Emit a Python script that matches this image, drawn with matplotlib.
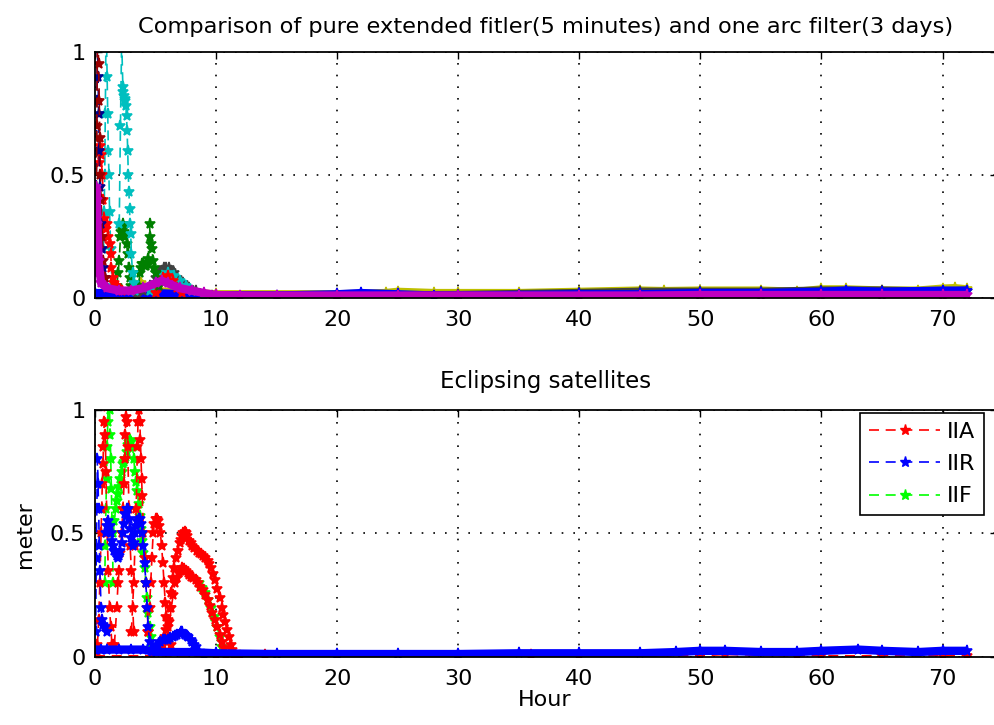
import matplotlib
matplotlib.use("Agg")
import matplotlib.pyplot as plt
from matplotlib.lines import Line2D

plt.rcParams['font.family'] = ['DejaVu Sans']
plt.rcParams['font.size'] = 16

# MATLAB default colour order
c_b = (0, 0, 1)
c_g = (0, 0.5, 0)
c_r = (1, 0, 0)
c_c = (0, 0.75, 0.75)
c_m = (0.75, 0, 0.75)
c_y = (0.75, 0.75, 0)
c_k = (0.25, 0.25, 0.25)

# ---- top panel: all satellites (hour, metre) ----
navy_h = [0.05, 0.1, 0.15, 0.2, 0.25, 0.3, 0.35, 0.4, 0.5, 0.6, 0.7, 0.8, 1.0]
navy_v = [0.1, 0.45, 0.8, 1.05, 0.9, 0.75, 0.6, 0.45, 0.3, 0.2, 0.12, 0.08, 0.04]
maroon_h = [0.1, 0.15, 0.2, 0.25, 0.3, 0.35, 0.4, 0.45, 0.5, 0.6, 0.7, 0.8]
maroon_v = [0.3, 0.7, 1.05, 1.05, 0.95, 0.8, 0.65, 0.5, 0.4, 0.25, 0.15, 0.08]
red_h = [0.3, 0.4, 0.45, 0.5, 0.6, 0.7, 0.75, 0.8, 0.9, 1.0, 1.1, 1.2, 1.3, 1.35, 1.5, 1.6, 1.7, 1.9, 2.2]
red_v = [0.55, 0.6, 0.62, 0.58, 0.5, 0.4, 0.32, 0.3, 0.28, 0.3, 0.25, 0.22, 0.18, 0.12, 0.08, 0.06, 0.05, 0.04, 0.03]
cyan1_h = [0.7, 0.75, 0.8, 0.85, 0.9, 0.95, 1.0, 1.05, 1.1, 1.15, 1.2, 1.3, 1.4]
cyan1_v = [0.2, 0.35, 0.5, 0.75, 1.05, 1.05, 0.9, 0.75, 0.6, 0.5, 0.35, 0.2, 0.05]
cyan2_h = [2.0, 2.1, 2.2, 2.3, 2.35, 2.4, 2.45, 2.5, 2.55, 2.6, 2.65, 2.7, 2.75, 2.8, 2.85, 2.9, 2.95, 3.0, 3.1, 3.2, 3.3]
cyan2_v = [0.3, 0.7, 1.05, 0.86, 0.84, 0.82, 0.81, 0.8, 0.78, 0.74, 0.68, 0.6, 0.5, 0.43, 0.36, 0.3, 0.26, 0.18, 0.1, 0.06, 0.03]
green1_h = [1.8, 1.9, 2.0, 2.1, 2.15, 2.2, 2.25, 2.3, 2.35, 2.4, 2.5, 2.6, 2.7, 2.8, 2.9, 3.0]
green1_v = [0.05, 0.1, 0.15, 0.25, 0.27, 0.28, 0.29, 0.3, 0.28, 0.27, 0.25, 0.22, 0.18, 0.12, 0.08, 0.05]
green2_h = [3.6, 3.7, 3.8, 3.9, 4.0, 4.1, 4.2, 4.3, 4.4, 4.5, 4.55, 4.6, 4.7, 4.8, 4.9, 5.0, 5.3]
green2_v = [0.05, 0.1, 0.12, 0.14, 0.14, 0.13, 0.13, 0.14, 0.16, 0.3, 0.25, 0.22, 0.2, 0.15, 0.12, 0.1, 0.05]
gray_h = [3.5, 4.0, 4.5, 5.0, 5.3, 5.5, 5.7, 5.9, 6.1, 6.3, 6.5, 6.8, 7.3, 7.8, 8.3, 9.0, 9.7]
gray_v = [0.01, 0.03, 0.05, 0.08, 0.1, 0.11, 0.12, 0.12, 0.12, 0.11, 0.1, 0.08, 0.06, 0.04, 0.03, 0.015, 0.01]
teal_h = [4.5, 5.0, 5.5, 6.0, 6.5, 7.0, 7.5, 8.0, 9.0]
teal_v = [0.03, 0.06, 0.09, 0.1, 0.09, 0.07, 0.05, 0.03, 0.01]
redhump_h = [5.0, 5.3, 5.6, 6.0, 6.4, 6.8, 7.2]
redhump_v = [0.02, 0.05, 0.08, 0.09, 0.07, 0.04, 0.02]
yellow_h = [3.0, 3.4, 3.8, 4.2, 10, 20, 24, 25, 28, 30, 35, 40, 45, 47, 50, 55, 58, 60, 62, 65, 68, 70, 71, 72]
yellow_v = [0.02, 0.05, 0.06, 0.03, 0.015, 0.015, 0.02, 0.025, 0.02, 0.02, 0.02, 0.025, 0.03, 0.028, 0.03, 0.03, 0.025, 0.035, 0.035, 0.03, 0.03, 0.038, 0.04, 0.035]
blue_h = [0, 5, 10, 15, 20, 22, 25, 28, 30, 35, 40, 45, 50, 55, 60, 62, 65, 70, 72]
blue_v = [0.02, 0.02, 0.01, 0.01, 0.015, 0.02, 0.015, 0.01, 0.01, 0.012, 0.015, 0.015, 0.02, 0.02, 0.025, 0.03, 0.025, 0.03, 0.03]
dark_h = [0, 10, 20, 30, 40, 45, 50, 55, 60, 65, 70, 72]
dark_v = [0.015, 0.01, 0.01, 0.012, 0.02, 0.025, 0.025, 0.025, 0.03, 0.03, 0.025, 0.03]
mag_h = [0, 0.1, 0.15, 0.2, 0.3, 0.5, 1, 2, 3, 4, 5, 5.5, 6, 7, 8, 9, 10, 12, 15, 20, 25, 30, 35, 40, 45, 50, 55, 60, 65, 70, 72]
mag_v = [0.1, 0.45, 0.4, 0.3, 0.15, 0.06, 0.04, 0.03, 0.03, 0.04, 0.06, 0.07, 0.06, 0.04, 0.03, 0.02, 0.012, 0.01, 0.01, 0.01, 0.01, 0.01, 0.01, 0.01, 0.01, 0.012, 0.012, 0.012, 0.012, 0.012, 0.012]

top_series = [
    (yellow_h, yellow_v, c_y, True),
    (dark_h, dark_v, c_k, True),
    (blue_h, blue_v, c_b, True),
    (gray_h, gray_v, c_k, False),
    (teal_h, teal_v, c_c, False),
    (redhump_h, redhump_v, c_r, False),
    (green1_h, green1_v, c_g, False),
    (green2_h, green2_v, c_g, False),
    (cyan2_h, cyan2_v, c_c, False),
    (cyan1_h, cyan1_v, c_c, False),
    (red_h, red_v, c_r, False),
    (navy_h, navy_v, (0, 0, 0.55), False),
    (maroon_h, maroon_v, (0.6, 0, 0), False),
    (mag_h, mag_v, c_m, True),
]

# ---- bottom panel: eclipsing satellites by block ----
iia = [
    ([0.2, 0.3, 0.4, 0.5, 0.55, 0.6, 0.65, 0.7, 0.75, 0.8, 0.85, 0.9, 1.0, 1.1, 1.2, 1.3, 1.4],
     [0.05, 0.15, 0.3, 0.5, 0.6, 0.7, 0.78, 0.85, 0.95, 1.05, 0.9, 0.75, 0.5, 0.35, 0.2, 0.12, 0.05]),
    ([1.6, 1.8, 1.9, 2.0, 2.1, 2.2, 2.3, 2.4, 2.45, 2.5, 2.55, 2.6, 2.65, 2.7, 2.8, 2.9, 3.0, 3.2],
     [0.05, 0.2, 0.3, 0.35, 0.42, 0.5, 0.6, 0.7, 0.8, 0.9, 0.97, 1.05, 0.95, 0.85, 0.6, 0.45, 0.35, 0.1]),
    ([3.0, 3.1, 3.2, 3.3, 3.4, 3.5, 3.55, 3.6, 3.65, 3.7, 3.75, 3.8, 3.85, 3.9, 4.0, 4.1, 4.2, 4.3, 4.4],
     [0.1, 0.2, 0.3, 0.45, 0.6, 0.85, 0.95, 1.05, 1.0, 0.95, 0.88, 0.8, 0.72, 0.65, 0.5, 0.4, 0.3, 0.2, 0.1]),
    ([4.4, 4.5, 4.6, 4.7, 4.8, 4.9, 5.0, 5.1, 5.2, 5.3, 5.4, 5.5, 5.6, 5.7, 5.8, 5.9, 6.0, 6.3],
     [0.1, 0.2, 0.3, 0.4, 0.5, 0.54, 0.56, 0.56, 0.55, 0.53, 0.5, 0.45, 0.38, 0.3, 0.22, 0.16, 0.12, 0.05]),
    ([5.6, 5.75, 5.9, 6.05, 6.2, 6.3, 6.4, 6.55, 6.7, 6.85, 7.0, 7.1, 7.2, 7.3, 7.4, 7.5, 7.6, 7.75, 7.9, 8.05, 8.2, 8.4, 8.6, 8.75, 8.9, 9.1, 9.3, 9.45, 9.6, 9.75, 9.9, 10.1, 10.3, 10.45, 10.6, 10.75, 10.9, 11.05, 11.2, 11.35, 11.5, 12.0],
     [0.05, 0.08, 0.11, 0.15, 0.2, 0.26, 0.32, 0.36, 0.4, 0.43, 0.46, 0.475, 0.49, 0.5, 0.505, 0.5, 0.49, 0.47, 0.46, 0.45, 0.44, 0.43, 0.42, 0.415, 0.41, 0.4, 0.39, 0.375, 0.36, 0.335, 0.31, 0.275, 0.24, 0.2, 0.17, 0.14, 0.11, 0.08, 0.05, 0.03, 0.01, 0.005]),
    ([6.0, 6.15, 6.3, 6.45, 6.6, 6.75, 6.9, 7.05, 7.2, 7.35, 7.5, 7.65, 7.8, 7.95, 8.1, 8.3, 8.5, 8.7, 8.9, 9.1, 9.3, 9.5, 9.7, 9.9, 10.1, 10.3, 10.5, 10.65, 10.8],
     [0.08, 0.14, 0.2, 0.25, 0.3, 0.32, 0.34, 0.35, 0.36, 0.355, 0.35, 0.34, 0.33, 0.325, 0.32, 0.31, 0.3, 0.285, 0.27, 0.25, 0.23, 0.205, 0.18, 0.15, 0.12, 0.09, 0.06, 0.035, 0.01]),
    ([0, 10, 14, 20, 30, 36, 40, 50, 52, 58, 60, 65, 70, 72],
     [0.005, 0.005, 0.01, 0.005, 0.008, 0.008, 0.005, 0.005, 0.01, 0.005, 0.005, 0.005, 0.005, 0.005]),
]
iir = [
    ([0.05, 0.1, 0.15, 0.2, 0.25, 0.3, 0.35, 0.4, 0.5, 0.6, 0.7, 0.8, 1.0],
     [0.1, 0.4, 0.6, 0.8, 0.7, 0.6, 0.45, 0.35, 0.2, 0.15, 0.13, 0.12, 0.1]),
    ([0.9, 1.0, 1.1, 1.2, 1.3, 1.4, 1.5, 1.6, 1.7, 1.8, 1.9, 2.0, 2.1, 2.2, 2.3, 2.4, 2.5, 2.6, 2.7, 2.8, 2.9, 3.0, 3.1, 3.2, 3.3, 3.4, 3.5, 3.6, 3.7, 3.8, 3.9, 4.0, 4.1, 4.2, 4.3, 4.4, 4.5, 4.6, 4.7],
     [0.5, 0.53, 0.55, 0.53, 0.5, 0.47, 0.45, 0.43, 0.42, 0.41, 0.4, 0.41, 0.43, 0.46, 0.5, 0.54, 0.58, 0.6, 0.6, 0.56, 0.52, 0.48, 0.45, 0.46, 0.5, 0.53, 0.55, 0.56, 0.56, 0.54, 0.5, 0.45, 0.38, 0.3, 0.2, 0.12, 0.06, 0.03, 0.02]),
    ([4.8, 5.0, 5.2, 5.4, 5.6, 5.8, 6.0, 6.2, 6.4, 6.6, 6.8, 7.0, 7.1, 7.2, 7.4, 7.6, 7.7, 7.9, 8.0, 8.2, 8.3, 8.6, 9.0],
     [0.03, 0.04, 0.05, 0.06, 0.07, 0.07, 0.07, 0.075, 0.08, 0.085, 0.09, 0.095, 0.1, 0.1, 0.09, 0.085, 0.08, 0.07, 0.06, 0.05, 0.04, 0.02, 0.01]),
]
iir_base_h = [0, 0.5, 1, 2, 3, 4, 5, 8, 10, 15, 20, 25, 30, 35, 40, 45, 48, 50, 52, 55, 58, 60, 63, 65, 68, 70, 72]
iir_base_v = [0.03, 0.03, 0.03, 0.03, 0.03, 0.03, 0.02, 0.02, 0.015, 0.012, 0.012, 0.012, 0.012, 0.015, 0.015, 0.015, 0.02, 0.025, 0.025, 0.02, 0.02, 0.025, 0.03, 0.025, 0.02, 0.025, 0.025]
iif = [
    ([0.8, 0.85, 0.9, 0.95, 1.0, 1.05, 1.1, 1.15, 1.2, 1.25, 1.3, 1.35, 1.4, 1.5],
     [0.3, 0.45, 0.6, 0.72, 0.85, 0.95, 1.05, 1.05, 1.0, 0.9, 0.8, 0.68, 0.55, 0.3]),
    ([1.5, 1.6, 1.7, 1.8, 1.9, 2.0, 2.1, 2.2, 2.3, 2.4, 2.5, 2.6, 2.7, 2.8, 2.9, 3.0, 3.1, 3.2, 3.3, 3.4, 3.5, 3.6, 3.7, 3.8, 3.9, 4.0, 4.1, 4.2, 4.3, 4.4, 4.5, 4.6, 4.7],
     [0.5, 0.55, 0.6, 0.63, 0.66, 0.69, 0.72, 0.75, 0.78, 0.79, 0.8, 0.83, 0.86, 0.87, 0.88, 0.87, 0.85, 0.8, 0.75, 0.71, 0.67, 0.62, 0.57, 0.52, 0.47, 0.42, 0.36, 0.3, 0.24, 0.18, 0.12, 0.08, 0.04]),
    ([8.6, 8.85, 9.1, 9.35, 9.6, 9.85, 10.1, 10.3, 10.5],
     [0.3, 0.28, 0.26, 0.23, 0.2, 0.16, 0.12, 0.08, 0.04]),
]

hour_ticks = [0, 10, 20, 30, 40, 50, 60, 70]
meter_ticks = [0, 0.5, 1]
tick_labels_y = ['0', '0.5', '1']

fig = plt.figure(figsize=(9.95, 7.25), dpi=100)
ax1 = fig.add_axes([0.0955, 0.589, 0.9065, 0.339])
ax2 = fig.add_axes([0.0955, 0.0938, 0.9065, 0.3407])


def style(ax):
    ax.set_xlim(0, 74.5)
    ax.set_ylim(0, 1)
    ax.set_xticks(hour_ticks)
    ax.set_yticks(meter_ticks)
    ax.set_yticklabels(tick_labels_y)
    ax.tick_params(direction='in', length=5, width=1, top=True, right=True)
    ax.tick_params(axis='x', pad=9)
    ax.tick_params(axis='y', pad=7)
    ax.grid(True, color='black', linestyle=(0, (1, 6)), linewidth=1.2)
    for s in ax.spines.values():
        s.set_linewidth(1.3)
        s.set_zorder(5)


def draw(ax, h, v, col, band=False):
    if band:
        ax.plot(h, v, '-', color=col, lw=6, solid_capstyle='butt')
    ax.plot(h, v, linestyle=(0, (6, 4)), marker='*', ms=8, mew=1.2, color=col, lw=1.2)


for h, v, col, band in top_series:
    draw(ax1, h, v, col, band)
style(ax1)
ax1.set_title('Comparison of pure extended fitler(5 minutes) and one arc filter(3 days)',
              fontsize=16.2, pad=14)

for h, v in iif:
    draw(ax2, h, v, (0, 1, 0))
for h, v in iia:
    draw(ax2, h, v, c_r)
for h, v in iir:
    draw(ax2, h, v, c_b)
draw(ax2, iir_base_h, iir_base_v, c_b, band=True)
style(ax2)
ax2.set_title('Eclipsing satellites', fontsize=16.5, pad=16)

handles = [Line2D([], [], linestyle=(0, (6, 4)), marker='*', ms=8, color=c, lw=1.2)
           for c in [c_r, c_b, (0, 1, 0)]]
leg = ax2.legend(handles, ['IIA', 'IIR', 'IIF'], loc='upper right',
                 bbox_to_anchor=(984 / 995, 1 - 413 / 725), bbox_transform=fig.transFigure,
                 borderaxespad=0, fancybox=False, edgecolor='black', framealpha=1,
                 handlelength=3.2, handletextpad=0.3, labelspacing=0.55, fontsize=16)
leg.get_frame().set_linewidth(1.2)

fig.text(545 / 995, 1 - 700 / 725, 'Hour', ha='center', va='center', fontsize=16)
fig.text(25 / 995, 1 - 535 / 725, 'meter', ha='center', va='center', rotation=90, fontsize=16)

fig.savefig('out.png', dpi=100, facecolor='white')
